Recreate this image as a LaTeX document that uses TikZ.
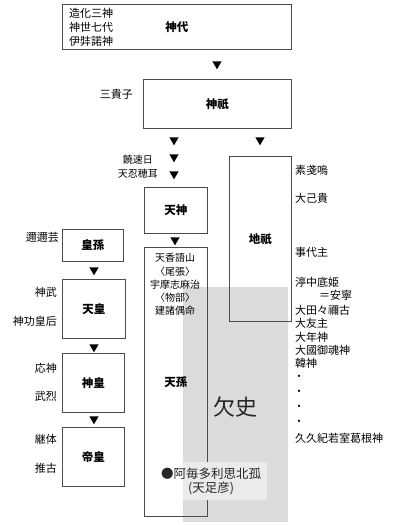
\documentclass[tikz,border=0pt]{standalone}
\usepackage{fontspec}
\setmainfont{Noto Sans CJK JP}
\usetikzlibrary{positioning, shapes.geometric}

\begin{document}
\begin{tikzpicture}[
        x=1pt, y=-1pt,
        box/.style={draw=black!70, line width=0.7pt, rectangle, anchor=north west, inner sep=0pt, font=\fontsize{11.5}{13}\selectfont\bfseries},
        tri/.style={isosceles triangle, shape border rotate=-90, isosceles triangle apex angle=60, fill=black, inner sep=0pt, minimum width=9pt, minimum height=8pt},
        lbl/.style={inner sep=0pt, font=\fontsize{11}{13}\selectfont},
        sub/.style={inner sep=0pt, font=\fontsize{10}{12}\selectfont}
    ]
        \useasboundingbox (0,0) rectangle (400,525);

        % missing history area
        \fill[black!14] (183,287) rectangle (288,522);
        \node[font=\fontsize{22}{24}\selectfont, text=black!85] (kesshi) at (235,407) {欠史};

        % main boxes
        \node[box, minimum width=229pt, minimum height=45pt] (jindai) at (62,4) {神代};
        \node[box, minimum width=148pt, minimum height=49pt] (jingi) at (143,79) {神祇};
        \node[box, minimum width=63pt, minimum height=46pt] (tenjin) at (144,187) {天神};
        \node[box, minimum width=62pt, minimum height=165pt] (chigi) at (229,156) {地祇};
        \node[box, minimum width=63pt, minimum height=269pt] (tenson) at (144,247) {天孫};
        \node[box, minimum width=61pt, minimum height=32pt] (koson) at (62,229) {皇孫};
        \node[box, minimum width=63pt, minimum height=59pt] (tenno) at (62,279) {天皇};
        \node[box, minimum width=62pt, minimum height=59pt] (shinno) at (62,353) {神皇};
        \node[box, minimum width=62pt, minimum height=59pt] (teino) at (62,427) {帝皇};

        % triangles
        \node[tri] (t1) at (217,64) {};
        \node[tri] (t2) at (174,140) {};
        \node[tri] (t3) at (260,140) {};
        \node[tri] (t4) at (174,157) {};
        \node[tri] (t5) at (174,174) {};
        \node[tri] (t6) at (175,240) {};
        \node[tri] (t7) at (94,270) {};
        \node[tri] (t8) at (94,347) {};
        \node[tri] (t9) at (94,419) {};

        % inside jindai
        \node[lbl, anchor=west] (zoka) at (69,13) {造化三神};
        \node[lbl, anchor=west] (kamiyo) at (69,27) {神世七代};
        \node[lbl, anchor=west] (izanagi) at (69,41) {伊弉諾神};

        % left labels
        \node[lbl, anchor=east] (sanki) at (133,94) {三貴子};
        \node[sub, anchor=east] (nigi) at (153,160) {饒速日};
        \node[sub, anchor=east] (oshiho) at (158,174) {天忍穂耳};
        \node[lbl, anchor=east] (ninigi) at (59,237) {邇邇芸};
        \node[lbl, anchor=east] (jinmu) at (57,292) {神武};
        \node[lbl, anchor=east] (jingu) at (57,321) {神功皇后};
        \node[lbl, anchor=east] (ojin) at (57,368) {応神};
        \node[lbl, anchor=east] (buretsu) at (57,396) {武烈};
        \node[lbl, anchor=east] (keitai) at (57,439) {継体};
        \node[lbl, anchor=east] (suiko) at (57,468) {推古};

        % inside tenson
        \node[sub] (kagoyama) at (175,258) {天香語山};
        \node[sub] (owari) at (175,272) {〈尾張〉};
        \node[sub] (umashi) at (175,285) {宇摩志麻治};
        \node[sub] (mononobe) at (175,298) {〈物部〉};
        \node[sub] (take) at (175,311) {建諸偶命};
        \fill[white] (155,462) rectangle (183,500);
        \fill[black!8] (183,462) rectangle (267,500);
        \node[inner sep=0pt, font=\fontsize{12.5}{14}\selectfont, align=center, text=black!85] (ame) at (211,481) {●阿毎多利思北孤\\(天足彦)};

        % right labels
        \node[lbl, anchor=west] (susa) at (295,170) {素戔嗚};
        \node[lbl, anchor=west] (onamuchi) at (295,198) {大己貴};
        \node[lbl, anchor=west] (koto) at (295,252) {事代主};
        \node[lbl, anchor=west] (nunaso) at (295,282) {渟中底姫};
        \node[lbl, anchor=west] (annei) at (319,295) {＝安寧};
        \node[lbl, anchor=west] (otataneko) at (295,310) {大田々禰古};
        \node[lbl, anchor=west] (otomo) at (295,323) {大友主};
        \node[lbl, anchor=west] (otoshi) at (295,337) {大年神};
        \node[lbl, anchor=west] (okuni) at (295,350) {大國御魂神};
        \node[lbl, anchor=west] (karakami) at (295,363) {韓神};
        \foreach \y in {378,393,408,423}
            \node[lbl] at (299,\y) {・};
        \node[lbl, anchor=west] (kukuki) at (295,438) {久久紀若室葛根神};

    \end{tikzpicture}
\end{document}
